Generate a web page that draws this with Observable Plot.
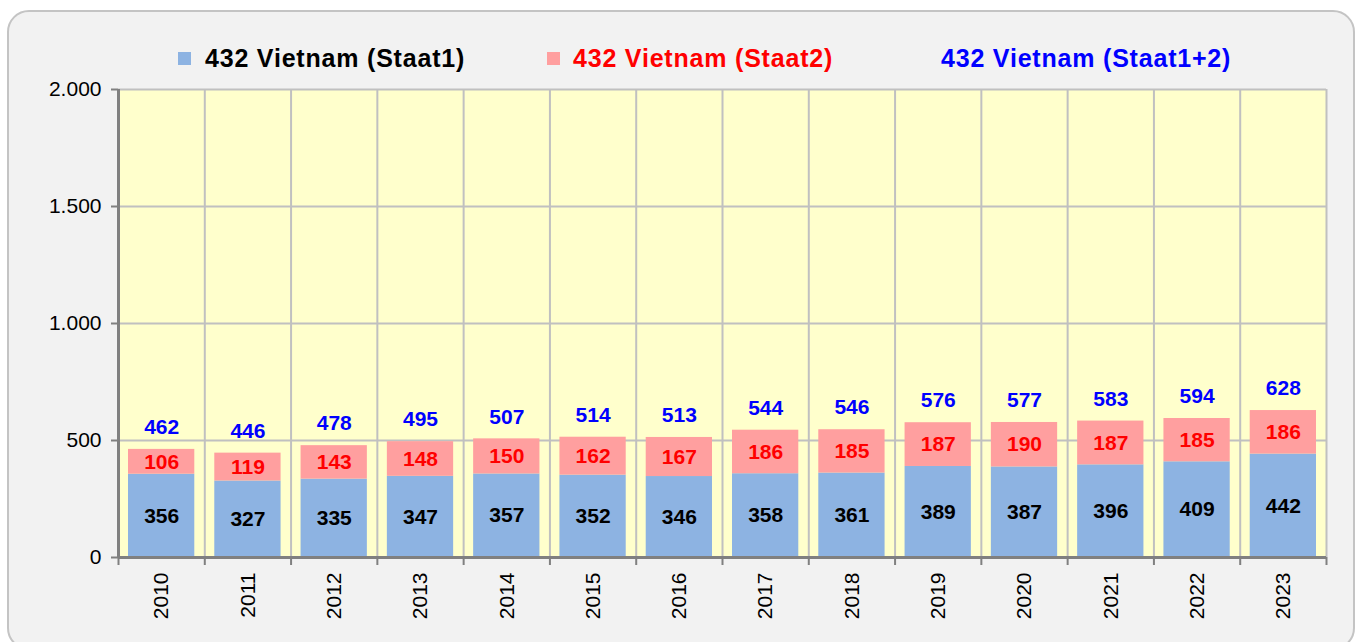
<!DOCTYPE html>
<html>
<head>
<meta charset="utf-8">
<script src="https://cdn.jsdelivr.net/npm/d3@7"></script>
<script src="https://cdn.jsdelivr.net/npm/@observablehq/plot@0.6"></script>
<style>
  html, body { margin: 0; padding: 0; background: #ffffff; }
  #wrap { position: relative; width: 1360px; height: 642px; overflow: hidden; font-family: "Liberation Sans", Arial, sans-serif; }
  #panel { position: absolute; left: 7px; top: 10px; width: 1348px; height: 640px; box-sizing: border-box;
           border: 2px solid #c4c4c4; border-radius: 22px; background: #f2f2f2; }
  .leg { position: absolute; top: 44px; font-size: 25px; font-weight: bold; white-space: nowrap; letter-spacing: 0.8px; }
  .sw { position: absolute; top: 52px; width: 13px; height: 13px; }
  #chart { position: absolute; left: 0; top: 75px; }
</style>
</head>
<body>
<div id="wrap">
  <div id="panel"></div>
  <div class="sw" style="left:178px;background:#8db3e2"></div>
  <div class="leg" style="left:205px;color:#000">432 Vietnam (Staat1)</div>
  <div class="sw" style="left:547px;background:#ff9f9f"></div>
  <div class="leg" style="left:573px;color:#ff0000">432 Vietnam (Staat2)</div>
  <div class="leg" style="left:941px;color:#0000ff">432 Vietnam (Staat1+2)</div>
  <div id="chart"></div>
</div>
<script>
const years  = [2010, 2011, 2012, 2013, 2014, 2015, 2016, 2017, 2018, 2019, 2020, 2021, 2022, 2023];
const staat1 = [356, 327, 335, 347, 357, 352, 346, 358, 361, 389, 387, 396, 409, 442];
const staat2 = [106, 119, 143, 148, 150, 162, 167, 186, 185, 187, 190, 187, 185, 186];
const total  = [462, 446, 478, 495, 507, 514, 513, 544, 546, 576, 577, 583, 594, 628];
const yTicks = [0, 500, 1000, 1500, 2000];

const data = years.map((y, i) => ({year: y, s1: staat1[i], s2: staat2[i], tot: total[i]}));
const bounds = [years[0] - 0.5, ...years.map(y => y + 0.5)];
const de = d3.formatLocale({decimal: ",", thousands: ".", grouping: [3], currency: ["", " €"]});
const fmt = de.format(",d");

const chart = Plot.plot({
  width: 1360,
  height: 557,
  marginLeft: 118,
  marginRight: 34,
  marginTop: 14,
  marginBottom: 75,
  style: {fontFamily: "'Liberation Sans', Arial, sans-serif", background: "transparent", color: "black", fontSize: "21px"},
  x: {type: "linear", domain: [years[0] - 0.5, years[years.length - 1] + 0.5]},
  y: {domain: [0, 2000]},
  marks: [
    Plot.frame({fill: "#ffffcc", stroke: "none"}),
    Plot.gridY({ticks: yTicks.slice(1), stroke: "#c0c0c0", strokeOpacity: 1, strokeWidth: 2}),
    Plot.ruleX(bounds.slice(1), {stroke: "#c0c0c0", strokeWidth: 2}),
    Plot.rectY(data, {x1: d => d.year - 0.5, x2: d => d.year + 0.5, y1: 0, y2: "s1", fill: "#8db3e2", insetLeft: 10, insetRight: 10}),
    Plot.rectY(data, {x1: d => d.year - 0.5, x2: d => d.year + 0.5, y1: "s1", y2: "tot", fill: "#ff9f9f", insetLeft: 10, insetRight: 10}),
    Plot.ruleY([0], {stroke: "#808080", strokeWidth: 3}),
    Plot.ruleX([bounds[0]], {stroke: "#808080", strokeWidth: 3}),
    Plot.axisY({ticks: yTicks, tickFormat: fmt, tickSize: 7, tickPadding: 10, fontSize: 21, stroke: "#808080", strokeWidth: 2, fill: "black", label: null}),
    Plot.axisX({ticks: bounds, tickFormat: () => "", tickSize: 8, stroke: "#808080", strokeWidth: 2, label: null}),
    Plot.axisX({ticks: years, tickFormat: d => String(d), tickSize: 0, tickPadding: 15, tickRotate: -90, fontSize: 21, fill: "black", label: null}),
    Plot.text(data, {x: "year", y: d => d.s1 / 2, text: d => String(d.s1), fill: "#000000", fontSize: 21, fontWeight: "bold"}),
    Plot.text(data, {x: "year", y: d => d.s1 + d.s2 / 2, text: d => String(d.s2), fill: "#ff0000", fontSize: 21, fontWeight: "bold"}),
    Plot.text(data, {x: "year", y: "tot", dy: -22, text: d => String(d.tot), fill: "#0000ff", fontSize: 21, fontWeight: "bold"})
  ]
});
document.getElementById("chart").appendChild(chart);
</script>
</body>
</html>
